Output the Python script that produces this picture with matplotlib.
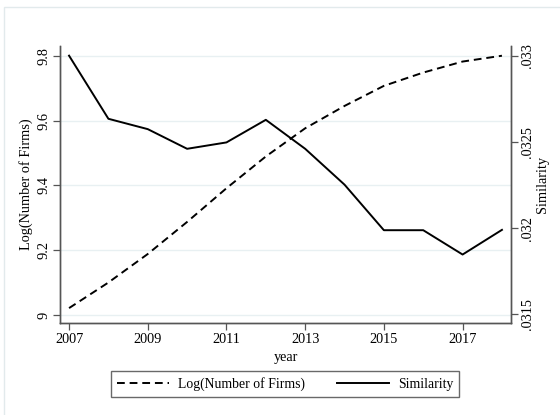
import matplotlib.pyplot as plt
from matplotlib.patches import Rectangle

plt.rcParams['font.family'] = ['Liberation Serif', 'DejaVu Serif']

# Data
years = [2007, 2008, 2009, 2010, 2011, 2012, 2013, 2014, 2015, 2016, 2017, 2018]
log_firms = [9.021, 9.100, 9.188, 9.287, 9.391, 9.489, 9.576, 9.645, 9.707, 9.748, 9.782, 9.800]
similarity = [0.03300, 0.032634, 0.032574, 0.03246, 0.032497, 0.032628,
              0.03246, 0.032252, 0.031988, 0.031988, 0.031847, 0.03199]
left_ticks = [9.0, 9.2, 9.4, 9.6, 9.8]
left_labels = ['9', '9.2', '9.4', '9.6', '9.8']
right_ticks = [0.0315, 0.032, 0.0325, 0.033]
right_labels = ['.0315', '.032', '.0325', '.033']
x_ticks = [2007, 2009, 2011, 2013, 2015, 2017]

fig = plt.figure(figsize=(5.6, 4.15), dpi=100)
# light outer frame of the graph region
fig.patches.append(Rectangle((4 / 560, -0.1), 1.2, 1 - 7 / 415 + 0.1,
                             transform=fig.transFigure, fill=False,
                             edgecolor='#e2eaec', linewidth=1))
ax = fig.add_axes([60 / 560, 1 - 323 / 415, 451 / 560, 277 / 415])
ax2 = ax.twinx()

spine_col = '#555555'
l1, = ax.plot(years, log_firms, color='black', linestyle=(0, (4, 2.5)), linewidth=1.4)
l2, = ax2.plot(years, similarity, color='black', linestyle='-', linewidth=1.4)

ax.set_xlim(2006.77, 2018.23)
ax.set_ylim(8.975, 9.83)
ax2.set_ylim(0.03145, 0.033056)

ax.set_xticks(x_ticks)
ax.set_yticks(left_ticks)
ax.set_yticklabels(left_labels, rotation=90, va='center')
ax2.set_yticks(right_ticks)
ax2.set_yticklabels(right_labels, rotation=90, va='center')

for a in (ax, ax2):
    a.spines['top'].set_visible(False)
    for s in ('left', 'right', 'bottom'):
        a.spines[s].set_color(spine_col)
        a.spines[s].set_linewidth(1.0)
    a.tick_params(direction='out', length=5, width=0.9, color=spine_col,
                  labelsize=10.3, pad=2)

ax.grid(axis='y', color='#e8f0f2', linewidth=1.0)
ax.set_axisbelow(True)
ax.set_xlabel('year', fontsize=10.3, labelpad=4)
ax.set_ylabel('Log(Number of Firms)', fontsize=10.3, labelpad=3)
ax2.set_ylabel('Similarity', fontsize=10.3, labelpad=2)

fig.legend([l1, l2], ['Log(Number of Firms)', 'Similarity'], loc='center',
           bbox_to_anchor=(285 / 560, 1 - 384 / 415), ncol=2, frameon=True,
           fancybox=False, edgecolor='#444444', fontsize=9.9,
           handlelength=3.8, handletextpad=0.65, columnspacing=2.3,
           borderpad=0.45)

plt.savefig('out.png', dpi=100, facecolor='white')
